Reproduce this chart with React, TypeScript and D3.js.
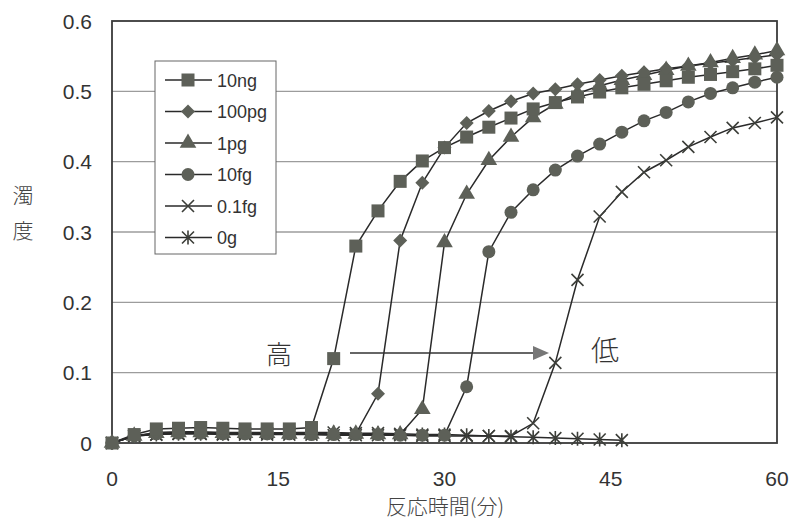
import React from "react";
import * as d3 from "d3";

// reaction time (min), one reading every 2 minutes
const times = [0, 2, 4, 6, 8, 10, 12, 14, 16, 18, 20, 22, 24, 26, 28, 30, 32, 34, 36, 38, 40, 42, 44, 46, 48, 50, 52, 54, 56, 58, 60];

const s10ng = [0, 0.012, 0.02, 0.021, 0.022, 0.021, 0.02, 0.02, 0.02, 0.022, 0.12, 0.28, 0.33, 0.372, 0.401, 0.42, 0.435, 0.449, 0.462, 0.475, 0.484, 0.492, 0.499, 0.505, 0.51, 0.515, 0.52, 0.524, 0.528, 0.532, 0.537];
const s100pg = [0, 0.01, 0.015, 0.016, 0.016, 0.015, 0.015, 0.015, 0.014, 0.014, 0.014, 0.013, 0.07, 0.288, 0.37, 0.42, 0.455, 0.472, 0.486, 0.497, 0.503, 0.51, 0.516, 0.522, 0.527, 0.532, 0.536, 0.54, 0.544, 0.548, 0.552];
const s1pg = [0, 0.01, 0.014, 0.015, 0.015, 0.014, 0.014, 0.014, 0.013, 0.013, 0.013, 0.013, 0.012, 0.012, 0.048, 0.285, 0.354, 0.402, 0.435, 0.463, 0.482, 0.497, 0.508, 0.516, 0.523, 0.53, 0.536, 0.541, 0.547, 0.552, 0.558];
const s10fg = [0, 0.01, 0.013, 0.014, 0.014, 0.013, 0.013, 0.013, 0.013, 0.012, 0.012, 0.012, 0.012, 0.011, 0.011, 0.011, 0.08, 0.272, 0.328, 0.36, 0.388, 0.408, 0.425, 0.442, 0.458, 0.47, 0.485, 0.497, 0.505, 0.513, 0.52];
const s01fg = [0, 0.01, 0.012, 0.013, 0.013, 0.012, 0.012, 0.012, 0.012, 0.012, 0.011, 0.011, 0.011, 0.011, 0.01, 0.01, 0.01, 0.01, 0.01, 0.028, 0.114, 0.232, 0.322, 0.357, 0.385, 0.402, 0.421, 0.435, 0.448, 0.455, 0.463];
const s0g = [0, 0.01, 0.012, 0.013, 0.013, 0.013, 0.014, 0.014, 0.015, 0.015, 0.015, 0.014, 0.014, 0.013, 0.012, 0.012, 0.011, 0.01, 0.009, 0.008, 0.007, 0.006, 0.005, 0.004];

const seriesNames = ["10ng", "100pg", "1pg", "10fg", "0.1fg", "0g"];
const seriesValues = [s10ng, s100pg, s1pg, s10fg, s01fg, s0g];
const seriesMarkers = ["square", "diamond", "triangle", "circle", "x", "star"];

const xTicks = [0, 15, 30, 45, 60];
const yTicks = [0, 0.1, 0.2, 0.3, 0.4, 0.5, 0.6];

const W = 799;
const H = 521;
const lineColor = "#2a2a2a";
const markColor = "#5d6058";
const numFont = "'Liberation Sans', Arial, sans-serif";
const jpFont = "'Noto Sans CJK JP', sans-serif";

function Marker({kind, x, y}: {kind: string; x: number; y: number}) {
    const t = `translate(${x},${y})`;
    if (kind === "square") return <rect x={x - 6.5} y={y - 6.5} width={13} height={13} fill={markColor}/>;
    if (kind === "diamond") return <path transform={t} d="M0,-7L7,0L0,7L-7,0Z" fill={markColor}/>;
    if (kind === "triangle") return <path transform={t} d={d3.symbol(d3.symbolTriangle, 120)() || ""} fill={markColor}/>;
    if (kind === "circle") return <circle cx={x} cy={y} r={6.5} fill={markColor}/>;
    if (kind === "x") return <path transform={t} d="M-6,-6L6,6M-6,6L6,-6" stroke="#3c3e39" strokeWidth={1.6}/>;
    return <path transform={t} d="M-6,-6L6,6M-6,6L6,-6M0,-7L0,7" stroke="#3c3e39" strokeWidth={1.6}/>;
}

export default function App() {
    const x = d3.scaleLinear().domain([0, 60]).range([112, 777]);
    const y = d3.scaleLinear().domain([0, 0.6]).range([443, 21]);

    const line = d3.line<number>()
        .x((d, i) => x(times[i]))
        .y((d) => y(d));

    const order = [5, 4, 3, 2, 1, 0];

    return (
        <svg width={W} height={H} style={{position: "absolute", left: 0, top: 0, background: "#fff"}}>
            {/* gridlines */}
            {yTicks.slice(1, -1).map((t) => (
                <line key={t} x1={x(0)} x2={x(60)} y1={y(t)} y2={y(t)} stroke="#9c9c9c" strokeWidth={1.3}/>
            ))}
            {/* frame */}
            <rect x={x(0)} y={y(0.6)} width={x(60) - x(0)} height={y(0) - y(0.6)} fill="none" stroke="#3a3a3a" strokeWidth={1.8}/>

            {/* y tick labels */}
            {yTicks.map((t) => (
                <text key={t} x={92} y={y(t) + 7.5} textAnchor="end" fontFamily={numFont} fontSize={21} fill="#333">
                    {t === 0 ? "0" : t.toFixed(1)}
                </text>
            ))}
            {/* x tick labels */}
            {xTicks.map((t) => (
                <text key={t} x={x(t)} y={486} textAnchor="middle" fontFamily={numFont} fontSize={21} fill="#333">{t}</text>
            ))}

            {/* axis titles */}
            <text x={445} y={514} textAnchor="middle" fontFamily={jpFont} fontWeight={300} fontSize={21} fill="#444">反応時間(分)</text>
            <text x={23} y={203} textAnchor="middle" fontFamily={jpFont} fontWeight={300} fontSize={21} fill="#444">濁</text>
            <text x={23} y={238} textAnchor="middle" fontFamily={jpFont} fontWeight={300} fontSize={21} fill="#444">度</text>

            {/* series */}
            {order.map((si) => (
                <g key={seriesNames[si]}>
                    <path d={line(seriesValues[si]) || ""} fill="none" stroke={lineColor} strokeWidth={1.5}/>
                    {seriesValues[si].map((v, i) => (
                        <Marker key={i} kind={seriesMarkers[si]} x={x(times[i])} y={y(v)}/>
                    ))}
                </g>
            ))}

            {/* arrow 高 -> 低 */}
            <text x={279} y={364} textAnchor="middle" fontFamily={jpFont} fontWeight={300} fontSize={26} fill="#333">高</text>
            <line x1={350} x2={534} y1={353} y2={353} stroke="#333" strokeWidth={1.6}/>
            <path d="M533,346L549,353L533,360Z" fill="#777"/>
            <text x={605} y={361} textAnchor="middle" fontFamily={jpFont} fontWeight={300} fontSize={28} fill="#333">低</text>

            {/* legend */}
            <rect x={155} y={61} width={121} height={193} fill="#fff" stroke="#666" strokeWidth={1}/>
            {seriesNames.map((n, i) => {
                const ly = 80 + i * 31.5;
                return (
                    <g key={n}>
                        <line x1={165} x2={212} y1={ly} y2={ly} stroke={lineColor} strokeWidth={1.5}/>
                        <Marker kind={seriesMarkers[i]} x={188} y={ly}/>
                        <text x={217} y={ly + 6.5} fontFamily={numFont} fontSize={18} fill="#333">{n}</text>
                    </g>
                );
            })}
        </svg>
    );
}
